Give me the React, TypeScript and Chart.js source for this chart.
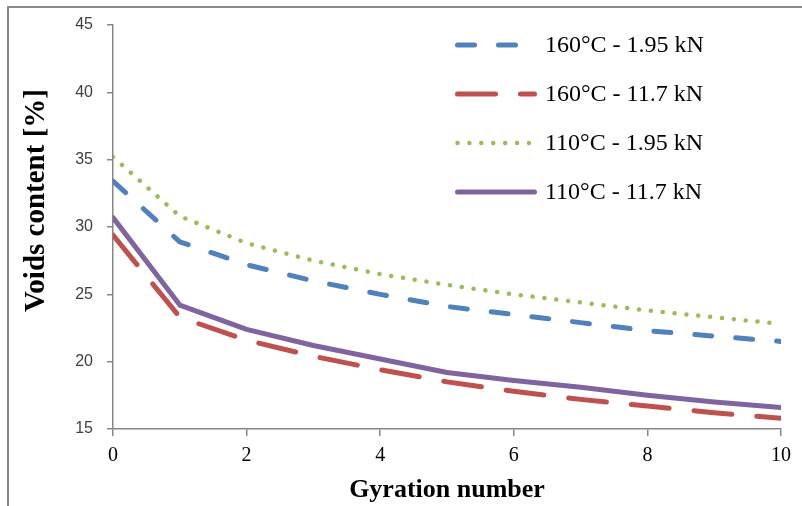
import { useEffect, useRef } from "react";
import { Chart, registerables } from "chart.js";

Chart.register(...registerables);

// ---- data ----
const gyrations = [0, 1, 2, 3, 4, 5, 6, 7, 8, 9, 10];
const seriesLabels = [
  "160°C - 1.95 kN",
  "160°C - 11.7 kN",
  "110°C - 1.95 kN",
  "110°C - 11.7 kN",
];
const voids160Low = [33.4, 28.9, 27.2, 26.0, 25.0, 24.1, 23.5, 22.9, 22.3, 21.9, 21.5];
const voids160High = [29.4, 23.3, 21.6, 20.4, 19.4, 18.5, 17.8, 17.2, 16.7, 16.2, 15.8];
const voids110Low = [35.2, 30.8, 28.8, 27.5, 26.5, 25.7, 25.0, 24.4, 23.8, 23.3, 22.8];
const voids110High = [30.7, 24.2, 22.4, 21.2, 20.2, 19.2, 18.6, 18.1, 17.5, 17.0, 16.6];
const xTickValues = [0, 2, 4, 6, 8, 10];
const yTickValues = [15, 20, 25, 30, 35, 40, 45];
const xTitle = "Gyration number";
const yTitle = "Voids content [%]";

const SERIF = "'Liberation Serif', 'Times New Roman', serif";
const SANS = "'Liberation Sans', Arial, sans-serif";

const framePlugin = {
  id: "frame",
  beforeDraw(chart: any) {
    const { ctx, width, height } = chart;
    ctx.save();
    ctx.fillStyle = "#ffffff";
    ctx.fillRect(0, 0, width, height);
    ctx.restore();
  },
  afterDraw(chart: any) {
    const { ctx, width, height } = chart;
    ctx.save();
    ctx.strokeStyle = "#8a8a8a";
    ctx.lineWidth = 2;
    ctx.beginPath();
    ctx.moveTo(8, height);
    ctx.lineTo(8, 7);
    ctx.lineTo(width, 7);
    ctx.stroke();
    ctx.restore();
  },
};

const yTitlePlugin = {
  id: "yTitle",
  afterDraw(chart: any) {
    const { ctx } = chart;
    ctx.save();
    ctx.translate(43.5, 200.5);
    ctx.rotate(-Math.PI / 2);
    ctx.font = `bold 29px ${SERIF}`;
    ctx.fillStyle = "#000";
    ctx.textAlign = "center";
    ctx.textBaseline = "alphabetic";
    ctx.fillText(yTitle, 0, 0);
    ctx.restore();
  },
};

const insideLegendPlugin = {
  id: "insideLegend",
  afterDatasetsDraw(chart: any) {
    const { ctx, chartArea } = chart;
    const x0 = chartArea.right - 323.5;
    const x1 = chartArea.right - 246.5;
    const tx = chartArea.right - 236;
    chart.data.datasets.forEach((ds: any, i: number) => {
      const y = chartArea.top + 20 + i * 49;
      ctx.save();
      ctx.strokeStyle = ds.borderColor;
      ctx.lineWidth = ds.borderWidth;
      ctx.lineCap = "round";
      ctx.setLineDash(ds.borderDash || []);
      ctx.beginPath();
      ctx.moveTo(x0, y);
      ctx.lineTo(x1, y);
      ctx.stroke();
      ctx.setLineDash([]);
      ctx.font = `24px ${SERIF}`;
      ctx.fillStyle = "#000";
      ctx.textAlign = "left";
      ctx.textBaseline = "middle";
      ctx.fillText(ds.label, tx, y + 1);
      ctx.restore();
    });
  },
};

export default function App() {
  const canvasRef = useRef<HTMLCanvasElement | null>(null);

  useEffect(() => {
    if (!canvasRef.current) return;
    const mk = (arr: number[]) => gyrations.map((x, i) => ({ x, y: arr[i] }));
    const chart = new Chart(canvasRef.current, {
      type: "line",
      data: {
        datasets: [
          {
            label: seriesLabels[0],
            data: mk(voids160Low),
            borderColor: "#4F81BD",
            borderWidth: 5,
            borderDash: [17, 24],
          },
          {
            label: seriesLabels[1],
            data: mk(voids160High),
            borderColor: "#C0504D",
            borderWidth: 5,
            borderDash: [38, 25],
          },
          {
            label: seriesLabels[2],
            data: mk(voids110Low),
            borderColor: "#9BBB59",
            borderWidth: 4.5,
            borderDash: [0.01, 11.9],
          },
          {
            label: seriesLabels[3],
            data: mk(voids110High),
            borderColor: "#8064A2",
            borderWidth: 5,
            borderDash: [],
          },
        ].map((d) => ({
          ...d,
          fill: false,
          tension: 0,
          pointRadius: 0,
          pointHoverRadius: 0,
          borderCapStyle: "round" as const,
          borderJoinStyle: "round" as const,
        })),
      },
      options: {
        responsive: false,
        maintainAspectRatio: false,
        animation: false,
        layout: { padding: { left: 0, right: 21, top: 25, bottom: 0 } },
        plugins: {
          legend: { display: false },
          tooltip: { enabled: false },
        },
        scales: {
          x: {
            type: "linear",
            min: 0,
            max: 10,
            afterFit: (s: any) => {
              s.height = 77;
            },
            afterBuildTicks: (s: any) => {
              s.ticks = xTickValues.map((v) => ({ value: v }));
            },
            ticks: {
              stepSize: 2,
              font: { family: SERIF, size: 20 },
              color: "#000",
              padding: 8,
            },
            grid: {
              display: true,
              drawOnChartArea: false,
              drawTicks: true,
              tickLength: 7,
              color: "#868686",
              lineWidth: 1.5,
            },
            border: { display: true, color: "#868686", width: 1.5 },
            title: {
              display: true,
              text: xTitle,
              font: { family: SERIF, size: 26, weight: "bold" },
              color: "#000",
              padding: { top: 0, bottom: 0 },
            },
          },
          y: {
            type: "linear",
            min: 15,
            max: 45,
            afterFit: (s: any) => {
              s.width = 113;
            },
            afterBuildTicks: (s: any) => {
              s.ticks = yTickValues.map((v) => ({ value: v }));
            },
            ticks: {
              stepSize: 5,
              font: { family: SANS, size: 16 },
              color: "#404040",
              padding: 14,
            },
            grid: {
              display: true,
              drawOnChartArea: false,
              drawTicks: true,
              tickLength: 6,
              color: "#868686",
              lineWidth: 1.5,
            },
            border: { display: true, color: "#868686", width: 1.5 },
            title: { display: false },
          },
        },
      },
      plugins: [framePlugin, insideLegendPlugin, yTitlePlugin],
    } as any);
    return () => chart.destroy();
  }, []);

  return (
    <div
      style={{
        position: "fixed",
        left: 0,
        top: 0,
        width: 802,
        height: 506,
        background: "#fff",
      }}
    >
      <canvas ref={canvasRef} width={802} height={506} />
    </div>
  );
}
